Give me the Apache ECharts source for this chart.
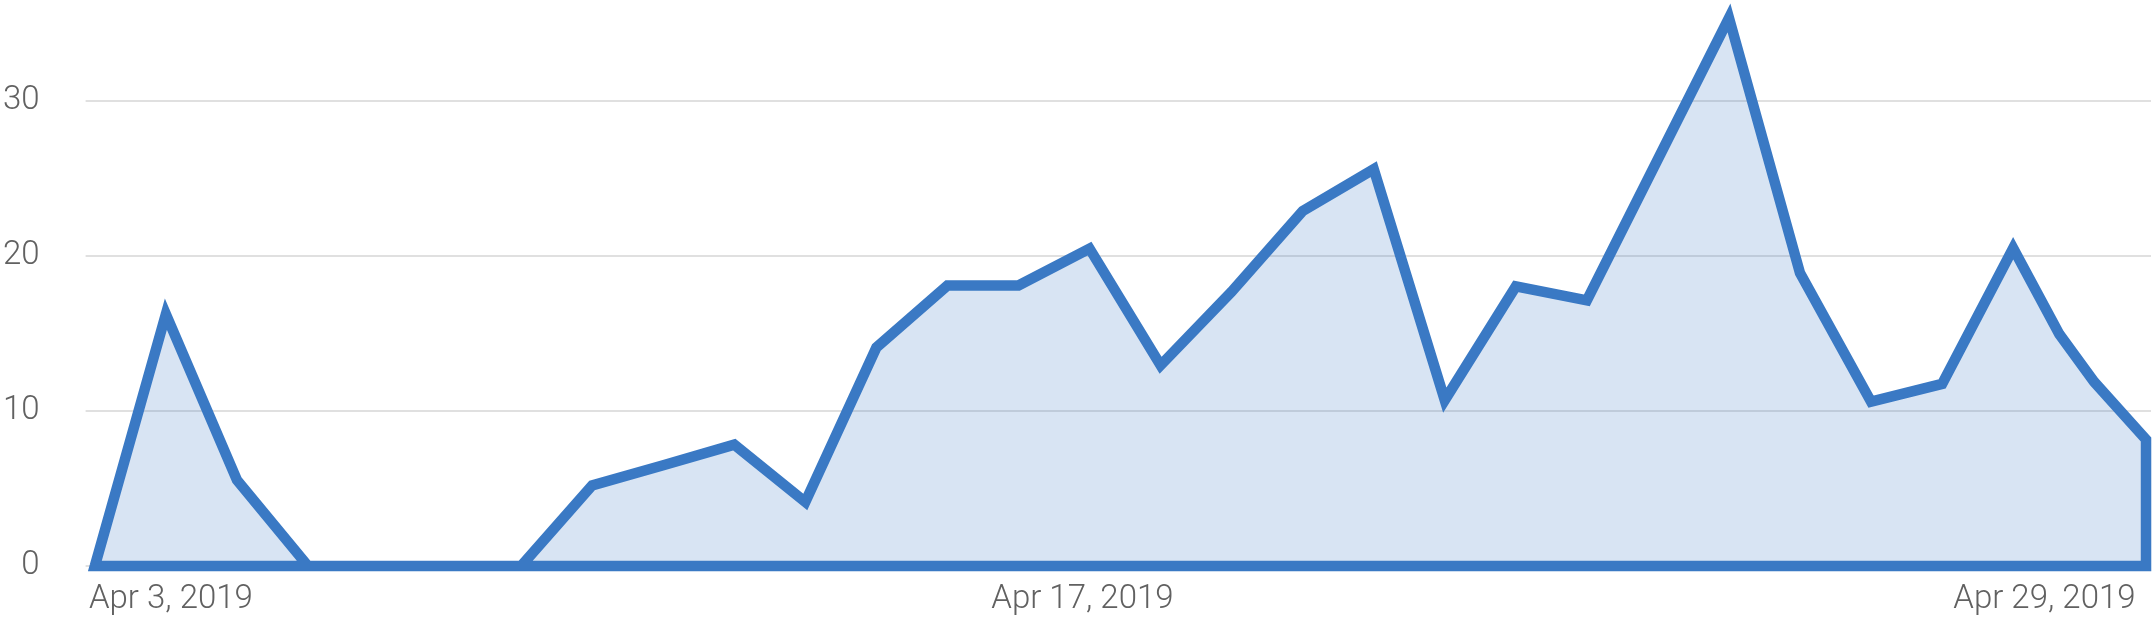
<!DOCTYPE html>
<html>
<head>
<meta charset="utf-8">
<script src="https://cdn.jsdelivr.net/npm/echarts@6/dist/echarts.min.js"></script>
<style>
  html, body { margin: 0; padding: 0; background: #fff; }
  #chart { width: 2156px; height: 623px; }
</style>
</head>
<body>
<div id="chart"></div>
<script>
// day index from the first point (Apr 3 area)
var dayPos = [0, 1, 2, 3, 4, 5, 6, 7, 8, 9, 10, 11, 12, 13, 14, 15, 16, 17, 18, 19,
    20, 21, 22, 23, 24, 25, 26, 27, 27.65, 28.14, 28.87];
var values = [0, 16.25, 5.55, 0, 0, 0, 0, 5.2, 6.5, 7.83, 4.13, 14.1, 18.1, 18.1, 20.48,
    12.95, 17.7, 22.9, 25.6, 10.7, 18.04, 17.14, 26.25, 35.36, 18.9, 10.6, 11.75,
    20.5, 14.96, 11.88, 8.16];
// the outline is closed back along the zero line (and joins the first rise again)
var closeX = [28.87, 0, 1];
var closeY = [0, 0, 16.25];

var labelPos = [1.07, 13.9, 27.44];
var labelText = ['Apr 3, 2019', 'Apr 17, 2019', 'Apr 29, 2019'];

function buildPoints() {
    var pts = [];
    for (var i = 0; i < dayPos.length; i++) {
        pts.push([dayPos[i], values[i]]);
    }
    for (var j = 0; j < closeX.length; j++) {
        pts.push([closeX[j], closeY[j]]);
    }
    return pts;
}

var myChart = echarts.init(document.getElementById('chart'));
var option = {
    animation: false,
    backgroundColor: '#ffffff',
    grid: { left: 81, right: 5, top: 8, bottom: 57 },
    xAxis: {
        type: 'value',
        min: -0.13,
        max: 28.94,
        axisLine: { show: false },
        axisTick: { show: false },
        splitLine: { show: false },
        axisLabel: {
            customValues: labelPos,
            margin: 17,
            color: '#616161',
            fontFamily: 'Roboto',
            fontWeight: 300,
            fontSize: 33,
            formatter: function (v) {
                var k = labelPos.indexOf(v);
                return k >= 0 ? labelText[k] : '';
            }
        }
    },
    yAxis: {
        type: 'value',
        min: 0,
        max: 36,
        interval: 10,
        axisLine: { show: false },
        axisTick: { show: false },
        splitLine: {
            showMaxLine: false,
            lineStyle: { color: '#d6d6d6', width: 1.5 }
        },
        axisLabel: {
            margin: 46,
            showMaxLabel: false,
            color: '#616161',
            fontFamily: 'Roboto',
            fontWeight: 300,
            fontSize: 33
        }
    },
    series: [{
        type: 'line',
        data: buildPoints(),
        symbol: 'none',
        clip: false,
        lineStyle: { color: '#3a79c4', width: 10.5, join: 'miter', miterLimit: 10 },
        areaStyle: { color: '#3a79c4', opacity: 0.2 },
        z: 1
    }]
};
myChart.setOption(option);
</script>
</body>
</html>
